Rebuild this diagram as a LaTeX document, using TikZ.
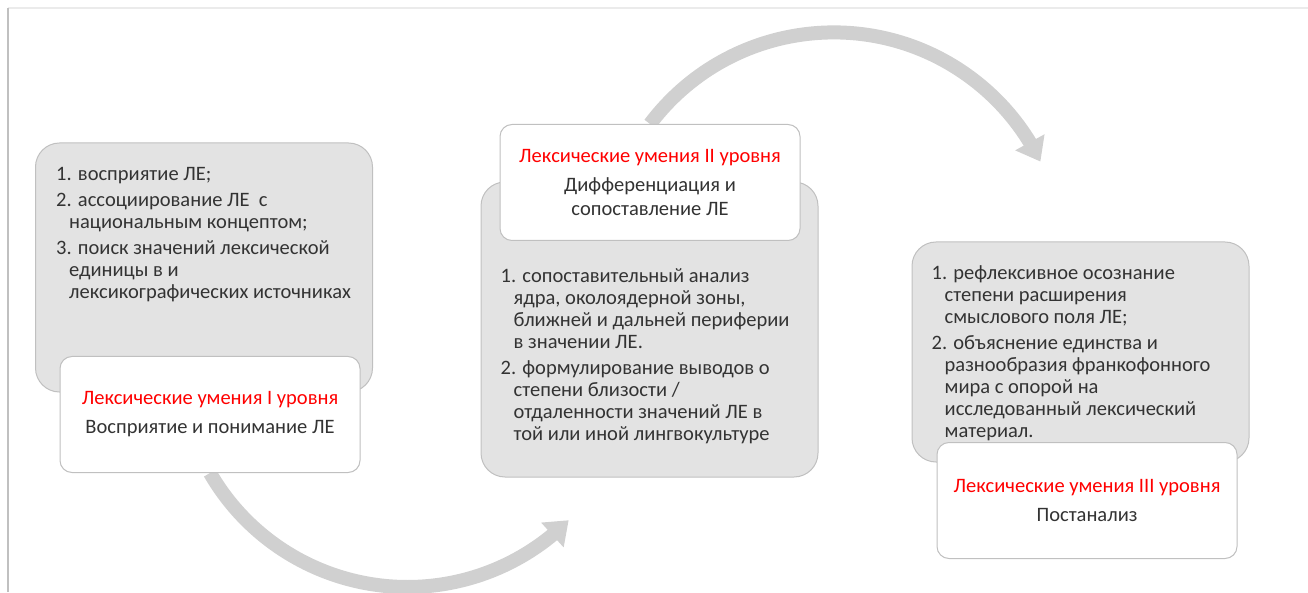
\documentclass[tikz,border=0pt]{standalone}
\usepackage{fontspec}
\setmainfont{Carlito}
\usepackage{xcolor}
\usetikzlibrary{arrows.meta, bending, positioning, backgrounds}

\definecolor{boxgray}{HTML}{E3E3E3}
\definecolor{edgegray}{HTML}{C0C0C0}
\definecolor{arrowgray}{HTML}{D0D0D0}
\definecolor{lexred}{HTML}{FF0000}
\definecolor{textgray}{HTML}{333333}
\definecolor{framegray}{HTML}{EBEBEB}

\begin{document}
\begin{tikzpicture}[
  x=1pt, y=1pt,
  grayback/.style={draw=edgegray, fill=boxgray, line width=1pt, rounded corners=24pt, minimum width=337pt, inner sep=0pt},
  levelbox/.style={draw=edgegray, fill=white, line width=1pt, rounded corners=12pt, minimum width=300pt, minimum height=116pt, align=center, text=textgray, font=\fontsize{20.5}{24}\selectfont},
  itemlist/.style={anchor=north west, inner sep=0pt, align=left, text=textgray, font=\fontsize{20.5}{22}\selectfont},
  cyclearrow/.style={arrowgray, line width=14pt, -{Triangle[width=32pt, length=22pt]}}
]
\useasboundingbox (0,0) rectangle (1308,592);
\draw[framegray, line width=1.5pt] (8,584) -- (1308,584);
\draw[edgegray, line width=1.5pt] (8,0) -- (8,584);

% level I
\node[grayback, minimum height=249pt] (back1) at (204,324.5) {};
\node[itemlist] (list1) at ([shift={(21pt,-25pt)}]back1.north west)
  {1. восприятие ЛЕ;\\[4pt]
   2. ассоциирование ЛЕ\ \ с\\ \hspace*{13pt}национальным концептом;\\[4pt]
   3. поиск значений лексической\\ \hspace*{13pt}единицы в и\\ \hspace*{13pt}лексикографических источниках};
\node[levelbox] (level1) at (210,177.5)
  {{\color{lexred}Лексические умения I уровня}\\[5pt] Восприятие и понимание ЛЕ};

% level II
\node[grayback, minimum height=295pt] (back2) at (649.5,262.5) {};
\node[levelbox] (level2) at (650,409.5)
  {{\color{lexred}Лексические умения II уровня}\\[5pt] Дифференциация и\\ сопоставление ЛЕ};
\node[itemlist] (list2) at ([shift={(20pt,-87pt)}]back2.north west)
  {1. сопоставительный анализ\\ \hspace*{13pt}ядра, околоядерной зоны,\\ \hspace*{13pt}ближней и дальней периферии\\ \hspace*{13pt}в значении ЛЕ.\\[4pt]
   2. формулирование выводов о\\ \hspace*{13pt}степени близости /\\ \hspace*{13pt}отдаленности значений ЛЕ в\\ \hspace*{13pt}той или иной лингвокультуре};

% level III
\node[grayback, minimum height=220pt] (back3) at (1080.5,240) {};
\node[itemlist] (list3) at ([shift={(20pt,-24pt)}]back3.north west)
  {1. рефлексивное осознание\\ \hspace*{13pt}степени расширения\\ \hspace*{13pt}смыслового поля ЛЕ;\\[4pt]
   2. объяснение единства и\\ \hspace*{13pt}разнообразия франкофонного\\ \hspace*{13pt}мира с опорой на\\ \hspace*{13pt}исследованный лексический\\ \hspace*{13pt}материал.};
\node[levelbox] (level3) at (1087,91.5)
  {{\color{lexred}Лексические умения III уровня}\\[5pt] Постанализ};

\begin{pgfonlayer}{background}
\draw[cyclearrow] (level1.south) arc[start angle=210, end angle=315, radius=228];
\draw[cyclearrow] (level2.north) arc[start angle=143, end angle=26, radius=230];
\end{pgfonlayer}
\end{tikzpicture}
\end{document}
